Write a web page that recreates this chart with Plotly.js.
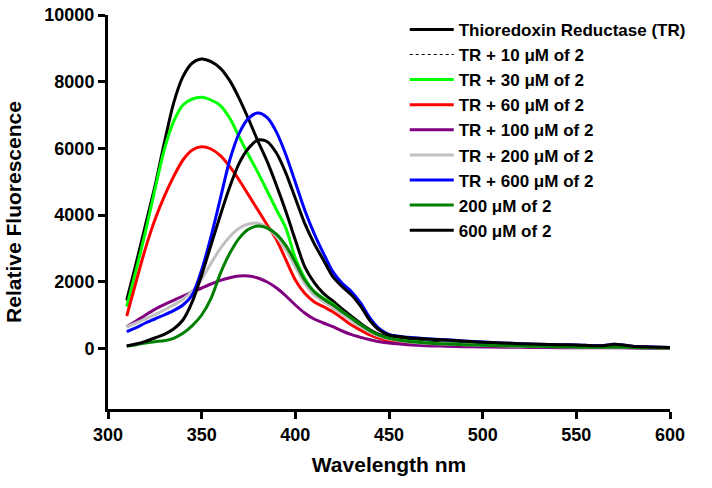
<!DOCTYPE html>
<html>
<head>
<meta charset="utf-8">
<script src="https://cdn.plot.ly/plotly-3.0.1.min.js"></script>
<style>html,body{margin:0;padding:0;background:#fff}#chart{width:712px;height:488px}</style>
</head>
<body>
<div id="chart"></div>
<script>
// Wavelength (nm)
const wavelength = [310,315,320,325,330,335,340,345,350,355,360,365,370,375,380,385,390,395,400,405,410,415,420,425,430,435,440,445,450,460,470,480,490,500,510,520,530,540,550,560,565,570,575,580,590,600];

const seriesNames = [
  "Thioredoxin Reductase (TR)",
  "TR + 10 \u03bcM of 2",
  "TR + 30 \u03bcM of 2",
  "TR + 60 \u03bcM of 2",
  "TR + 100 \u03bcM of 2",
  "TR + 200 \u03bcM of 2",
  "TR + 600 \u03bcM of 2",
  "200 \u03bcM of 2",
  "600 \u03bcM of 2"
];

const trOnly   = [1450,2550,3700,4850,6150,7350,8150,8560,8680,8600,8400,8030,7500,6880,6220,5600,4880,4100,3250,2450,1980,1650,1420,1180,960,740,550,410,330,240,190,160,130,110,95,85,75,65,55,45,45,60,50,35,25,15];
const tr10     = [1420,2530,3690,4860,6160,7360,8170,8580,8700,8620,8410,8040,7510,6890,6230,5610,4890,4110,3260,2460,1990,1660,1430,1190,970,750,560,420,335,245,195,165,135,115,100,88,78,68,58,48,48,62,52,38,28,18];
const tr30     = [1250,2350,3500,4750,5950,6800,7300,7480,7530,7450,7280,6900,6350,5800,5280,4720,4150,3600,2700,2100,1700,1500,1330,1100,900,700,520,380,300,220,170,140,115,95,80,70,60,50,40,30,30,40,35,25,15,10];
const tr60     = [970,2000,3000,3850,4550,5150,5650,5950,6050,5980,5780,5450,5050,4600,4150,3700,3250,2650,2050,1650,1400,1250,1100,900,700,540,400,300,230,170,130,110,90,75,65,55,50,45,40,30,30,35,30,25,15,10];
const tr100    = [650,820,1000,1170,1310,1440,1570,1690,1810,1930,2040,2120,2170,2170,2110,1990,1810,1570,1300,1060,880,760,650,520,410,330,260,200,160,110,80,65,50,40,35,30,25,20,20,15,15,20,15,10,5,0];
const tr200    = [640,760,880,1010,1150,1300,1470,1720,2080,2550,3000,3350,3600,3730,3750,3620,3350,2950,2450,1950,1600,1400,1220,1030,830,650,480,360,280,200,155,130,110,90,75,65,55,50,40,30,30,40,35,25,15,10];
const tr600    = [500,620,760,880,1000,1130,1300,1600,2350,3350,4500,5650,6450,6900,7060,6920,6480,5800,4980,4150,3450,2850,2300,1950,1700,1350,900,580,420,330,290,260,220,190,160,140,120,110,100,80,85,120,100,60,40,25];
const cmpd200  = [70,110,160,200,230,300,450,680,1000,1500,2250,2850,3300,3570,3670,3610,3420,3080,2580,2050,1700,1480,1300,1100,900,700,520,390,300,210,160,130,110,95,80,70,60,50,40,30,30,40,35,25,15,10];
const cmpd600  = [70,130,210,310,420,580,850,1400,2200,3100,4000,4850,5550,6000,6250,6200,5850,5250,4500,3750,3150,2650,2150,1850,1600,1250,820,540,400,320,280,250,215,185,160,140,120,110,100,80,85,120,100,60,40,25];

const xTicks = [300,350,400,450,500,550,600];
const yTicks = [0,2000,4000,6000,8000,10000];

const seriesValues = [trOnly,tr10,tr30,tr60,tr100,tr200,tr600,cmpd200,cmpd600];
const colors = ["#000000","#000000","#00ff00","#ff0000","#800080","#c0c0c0","#0000ff","#008000","#000000"];
const dashes = ["solid","dot","solid","solid","solid","solid","solid","solid","solid"];
const widths = [3,1,3,3,3,3,3,3,3];

const FONT = "'Liberation Sans', Arial, Helvetica, sans-serif";

const traces = seriesNames.map((name,i)=>({
  type:"scatter", mode:"lines", name:name,
  x:wavelength, y:seriesValues[i],
  line:{color:colors[i], width:widths[i], dash:dashes[i], shape:"spline", smoothing:0.8}
}));

const layout = {
  width:712, height:488,
  margin:{l:108, r:42, t:15, b:79, pad:0},
  paper_bgcolor:"#ffffff", plot_bgcolor:"#ffffff",
  font:{family:FONT, color:"#000", size:18, weight:700},
  showlegend:true,
  legend:{x:0.528, y:1.008, xanchor:"left", yanchor:"top", bgcolor:"rgba(0,0,0,0)",
          font:{family:FONT, size:17, color:"#000", weight:700},
          tracegroupgap:0, itemwidth:44, traceorder:"normal"},
  xaxis:{range:[300,600], tickvals:xTicks, ticktext:xTicks.map(String),
         showline:true, linewidth:3, linecolor:"#000", ticks:"outside", ticklen:7, tickwidth:3, tickcolor:"#000",
         showgrid:false, zeroline:false,
         tickfont:{family:FONT, size:18, color:"#000", weight:700},
         title:{text:"Wavelength nm", font:{family:FONT, size:21, color:"#000", weight:700}, standoff:14}},
  yaxis:{range:[-1820,10000], tickvals:yTicks, ticktext:yTicks.map(String),
         showline:true, linewidth:3, linecolor:"#000", ticks:"outside", ticklen:7, tickwidth:3, tickcolor:"#000",
         showgrid:false, zeroline:false,
         tickfont:{family:FONT, size:18, color:"#000", weight:700},
         title:{text:"Relative Fluorescence", font:{family:FONT, size:21, color:"#000", weight:700}, standoff:17}}
};

Plotly.newPlot("chart", traces, layout, {displayModeBar:false, staticPlot:true});
</script>
</body>
</html>
